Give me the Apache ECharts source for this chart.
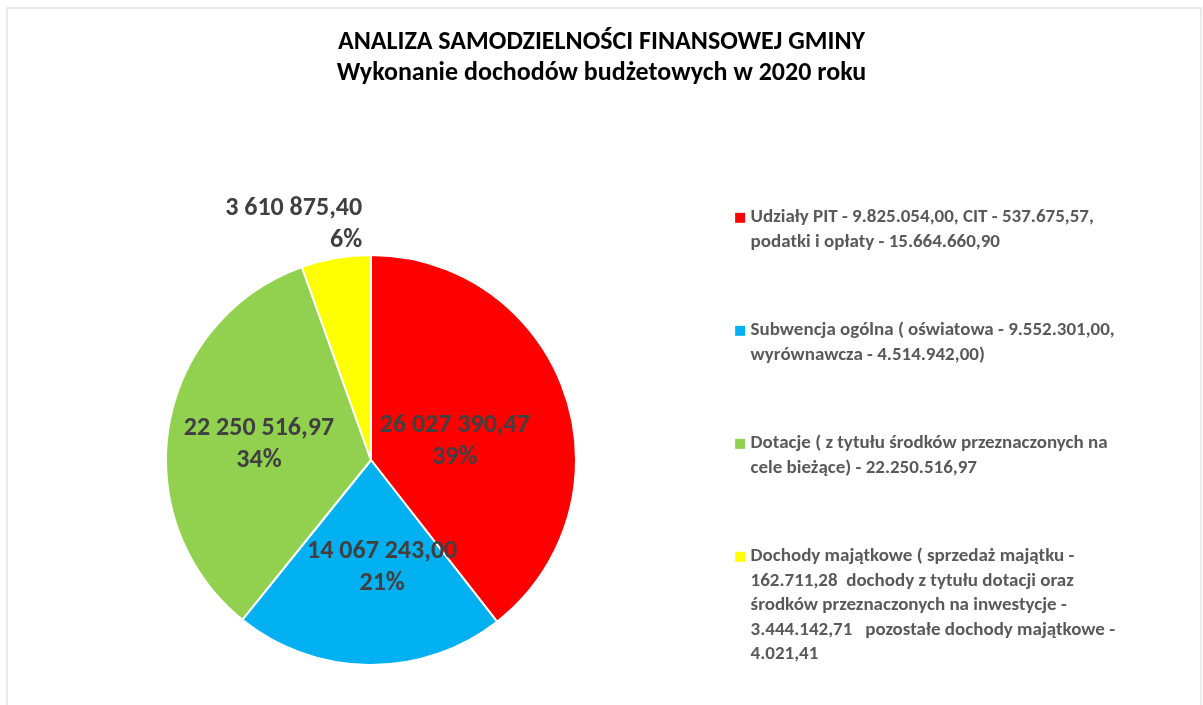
<!DOCTYPE html>
<html>
<head>
<meta charset="utf-8">
<script src="https://cdn.jsdelivr.net/npm/echarts@6/dist/echarts.min.js"></script>
<style>
  html, body { margin: 0; padding: 0; background: #fff; }
  #chart { width: 1203px; height: 705px; }
</style>
</head>
<body>
<div id="chart"></div>
<script>
// data
const categories = [
  "Udziały PIT - 9.825.054,00, CIT - 537.675,57,\npodatki i opłaty - 15.664.660,90",
  "Subwencja ogólna ( oświatowa - 9.552.301,00,\nwyrównawcza - 4.514.942,00)",
  "Dotacje ( z tytułu środków przeznaczonych na\ncele bieżące) - 22.250.516,97",
  "Dochody majątkowe ( sprzedaż majątku -\n162.711,28  dochody z tytułu dotacji oraz\nśrodków przeznaczonych na inwestycje -\n3.444.142,71   pozostałe dochody majątkowe -\n4.021,41"
];
const values = [26027390.47, 14067243.0, 22250516.97, 3610875.4];
const colors = ["#ff0000", "#00b0f0", "#92d050", "#ffff00"];

const FONT = "Carlito, Lato, sans-serif";

function fmtNum(v) {
  const parts = v.toFixed(2).split(".");
  return parts[0].replace(/\B(?=(\d{3})+(?!\d))/g, " ") + "," + parts[1];
}

const chart = echarts.init(document.getElementById("chart"), null, { renderer: "canvas" });

const rich = { h: { color: "transparent", fontFamily: "DejaVu Sans", fontSize: 13, lineHeight: 24.5 } };
colors.forEach((c, i) => {
  rich["s" + i] = { color: c, fontFamily: "DejaVu Sans", fontSize: 13, lineHeight: 24.5 };
});

// small nudges so the labels sit where the reference has them
const labelShift = { 0: [-16, 16], 1: [12, 2], 2: [-8, 2], 3: [33, -24] };

const option = {
  backgroundColor: "#ffffff",
  title: {
    text: "ANALIZA SAMODZIELNOŚCI FINANSOWEJ GMINY\nWykonanie dochodów budżetowych w 2020 roku",
    left: "center",
    top: 22,
    textStyle: {
      fontFamily: FONT,
      fontSize: 26,
      fontWeight: "bold",
      color: "#000000",
      lineHeight: 31
    }
  },
  legend: {
    orient: "vertical",
    left: 729,
    top: 205,
    height: 900,
    padding: 0,
    itemGap: 64,
    itemWidth: 0,
    itemHeight: 10,
    icon: "none",
    selectedMode: false,
    data: categories,
    formatter: function (name) {
      const i = categories.indexOf(name);
      return name.split("\n").map((line, k) =>
        (k === 0 ? "{s" + i + "|■}" : "{h|■}") + " " + line
      ).join("\n");
    },
    textStyle: {
      fontFamily: FONT,
      fontSize: 19,
      fontWeight: "bold",
      color: "#595959",
      lineHeight: 24.5,
      rich: rich
    }
  },
  graphic: [{
    type: "rect",
    shape: { x: 7, y: 8, width: 1194, height: 700 },
    style: { fill: "none", stroke: "#e3e3e3", lineWidth: 1.5 },
    silent: true
  }],
  series: [{
    type: "pie",
    center: [371, 460],
    radius: 205,
    startAngle: 90,
    clockwise: true,
    percentPrecision: 0,
    silent: true,
    itemStyle: { borderColor: "#ffffff", borderWidth: 2 },
    label: {
      show: true,
      position: "inside",
      formatter: p => fmtNum(p.value) + "\n" + p.percent + "%",
      fontFamily: FONT,
      fontSize: 26,
      fontWeight: "bold",
      color: "#404040",
      lineHeight: 32
    },
    labelLine: { show: false },
    labelLayout: function (p) {
      const s = labelShift[p.dataIndex];
      return s ? { dx: s[0], dy: s[1] } : {};
    },
    data: categories.map((name, i) => {
      const item = { name: name, value: values[i], itemStyle: { color: colors[i] } };
      if (i === 3) {
        item.label = { position: "outside" };
        item.labelLine = { show: false, length: 10, length2: 0 };
      }
      return item;
    })
  }]
};

chart.setOption(option);
</script>
</body>
</html>
